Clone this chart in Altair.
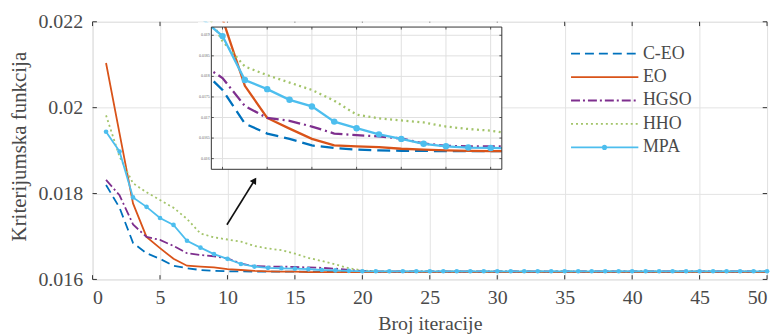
import altair as alt
import pandas as pd

FONT = "Liberation Serif"
TEXT_COLOR = "#4a4a4a"

# ---------------- data ----------------
iterations = list(range(1, 51))
series_names = ["C-EO", "EO", "HGSO", "HHO", "MPA"]

c_eo = [0.01820, 0.01767, 0.01685, 0.01661, 0.01648, 0.01632, 0.01626, 0.01622, 0.01620, 0.01619,
        0.01619, 0.01618, 0.01618, 0.01618, 0.01618, 0.01618, 0.01618, 0.01618, 0.01618, 0.01618,
        0.01618, 0.01618, 0.01618, 0.01618, 0.01618, 0.01618, 0.01618, 0.01618, 0.01618, 0.01618,
        0.01618, 0.01618, 0.01618, 0.01618, 0.01618, 0.01618, 0.01618, 0.01618, 0.01618, 0.01618,
        0.01618, 0.01618, 0.01618, 0.01618, 0.01618, 0.01618, 0.01618, 0.01618, 0.01618, 0.01618]
eo = [0.02104, 0.01940, 0.01777, 0.01699, 0.01673, 0.01648, 0.01632, 0.01630, 0.01628, 0.01624,
      0.01622, 0.01620, 0.01619, 0.01618, 0.01618, 0.01617, 0.01617, 0.01617, 0.01617, 0.01617,
      0.01617, 0.01617, 0.01617, 0.01617, 0.01617, 0.01617, 0.01617, 0.01617, 0.01617, 0.01617,
      0.01617, 0.01617, 0.01617, 0.01617, 0.01617, 0.01617, 0.01617, 0.01617, 0.01617, 0.01617,
      0.01617, 0.01617, 0.01617, 0.01617, 0.01617, 0.01617, 0.01617, 0.01617, 0.01617, 0.01617]
hgso = [0.01832, 0.01796, 0.01728, 0.01699, 0.01692, 0.01678, 0.01661, 0.01657, 0.01654, 0.01649,
        0.01637, 0.01631, 0.01630, 0.01630, 0.01629, 0.01628, 0.01627, 0.01625, 0.01622, 0.01620,
        0.01619, 0.01619, 0.01619, 0.01619, 0.01619, 0.01619, 0.01619, 0.01619, 0.01619, 0.01619,
        0.01619, 0.01619, 0.01619, 0.01619, 0.01619, 0.01619, 0.01619, 0.01619, 0.01619, 0.01619,
        0.01619, 0.01619, 0.01619, 0.01619, 0.01619, 0.01619, 0.01619, 0.01619, 0.01619, 0.01619]
hho = [0.01982, 0.01886, 0.01824, 0.01803, 0.01785, 0.01767, 0.01741, 0.01707, 0.01698, 0.01693,
       0.01688, 0.01678, 0.01672, 0.01668, 0.01660, 0.01650, 0.01643, 0.01635, 0.01626, 0.01621,
       0.01619, 0.01619, 0.01619, 0.01619, 0.01619, 0.01619, 0.01619, 0.01619, 0.01619, 0.01619,
       0.01619, 0.01619, 0.01619, 0.01619, 0.01619, 0.01619, 0.01619, 0.01619, 0.01619, 0.01619,
       0.01619, 0.01619, 0.01619, 0.01619, 0.01619, 0.01619, 0.01619, 0.01619, 0.01619, 0.01619]
mpa = [0.01944, 0.01898, 0.01791, 0.01769, 0.01743, 0.01727, 0.01690, 0.01674, 0.01659, 0.01648,
       0.01636, 0.01630, 0.01627, 0.01626, 0.01625, 0.01624, 0.01622, 0.01621, 0.01620, 0.01619,
       0.01619, 0.01619, 0.01619, 0.01619, 0.01619, 0.01619, 0.01619, 0.01619, 0.01619, 0.01619,
       0.01619, 0.01619, 0.01619, 0.01619, 0.01619, 0.01619, 0.01619, 0.01619, 0.01619, 0.01619,
       0.01619, 0.01619, 0.01619, 0.01619, 0.01619, 0.01619, 0.01619, 0.01619, 0.01619, 0.01619]
series_values = [c_eo, eo, hgso, hho, mpa]

x_ticks = [0, 5, 10, 15, 20, 25, 30, 35, 40, 45, 50]
y_ticks = [0.016, 0.018, 0.02, 0.022]
inset_x_ticks = [2, 4, 6, 8, 10, 12, 14]
inset_y_ticks = [0.016, 0.0165, 0.017, 0.0175, 0.018, 0.0185, 0.019]

# ---------------- layout / styles ----------------
W, H = 678, 259
X_DOM = [0, 50]
Y_DOM = [0.016, 0.022]
IN_X_DOM = [1.5, 14.5]
IN_Y_DOM = [0.01574, 0.0192]
IN_X_RANGE = [119.4, 411.4]
IN_Y_RANGE = [148.3, 5.3]
IN_FIRST, IN_LAST = 0, 15  # slice of iterations drawn in the inset

STYLE = {
    "C-EO": dict(color="#0072BD", dash=[9, 5], dash_in=[13, 6]),
    "EO": dict(color="#D95319", dash=None, dash_in=None),
    "HGSO": dict(color="#7E2F8E", dash=[9, 3, 2, 3], dash_in=[12, 4, 2, 4]),
    "HHO": dict(color="#A3C46A", dash=[2, 3], dash_in=[2, 3.5]),
    "MPA": dict(color="#4DBEEE", dash=None, dash_in=None),
}

x_main = alt.Scale(domain=X_DOM, nice=False, zero=False)
y_main = alt.Scale(domain=Y_DOM, nice=False, zero=False)
x_in = alt.Scale(domain=IN_X_DOM, range=IN_X_RANGE, nice=False, zero=False)
y_in = alt.Scale(domain=IN_Y_DOM, range=IN_Y_RANGE, nice=False, zero=False)

x_axis = alt.Axis(values=x_ticks, title="Broj iteracije", grid=True, ticks=False, domain=False,
                  labelFont=FONT, labelFontSize=20, labelColor=TEXT_COLOR, labelPadding=8,
                  titleFont=FONT, titleFontSize=20, titleFontWeight="normal", titleColor=TEXT_COLOR,
                  titleY=50, titleBaseline="alphabetic", gridColor="#E3E3E3")
y_axis = alt.Axis(values=y_ticks, format="~g", title="Kriterijumska funkcija", grid=True, ticks=False,
                  domain=False, labelFont=FONT, labelFontSize=20, labelColor=TEXT_COLOR, labelPadding=10,
                  titleFont=FONT, titleFontSize=21, titleFontWeight="normal", titleColor=TEXT_COLOR,
                  titleX=-73, titleY=125, titleAngle=270, titleBaseline="middle", titleAlign="center",
                  gridColor="#E3E3E3")


def mx(field):
    return alt.X(field, scale=x_main, axis=x_axis)


def my(field):
    return alt.Y(field, scale=y_main, axis=y_axis)


def ix(field):
    return alt.X(field, scale=x_in, axis=None)


def iy(field):
    return alt.Y(field, scale=y_in, axis=None)


def series_df(values, its):
    return pd.DataFrame({"iteration": its, "value": values})


# ---------------- main panel ----------------
main_layers = []
for name, vals in zip(series_names, series_values):
    st = STYLE[name]
    kw = dict(color=st["color"], strokeWidth=1.8, clip=True)
    if st["dash"]:
        kw["strokeDash"] = st["dash"]
    main_layers.append(alt.Chart(series_df(vals, iterations)).mark_line(**kw).encode(
        x=mx("iteration:Q"), y=my("value:Q")))
main_layers.append(alt.Chart(series_df(mpa, iterations)).mark_point(
    filled=True, size=22, opacity=1, color=STYLE["MPA"]["color"]).encode(
    x=mx("iteration:Q"), y=my("value:Q")))

# inward ticks (MATLAB style)
tick_rows = []
for t in x_ticks:
    tick_rows.append(dict(x=t, x2=t, y=Y_DOM[0], y2=Y_DOM[0] + 0.0001))
    tick_rows.append(dict(x=t, x2=t, y=Y_DOM[1], y2=Y_DOM[1] - 0.0001))
for t in y_ticks:
    tick_rows.append(dict(x=X_DOM[0], x2=X_DOM[0] + 0.32, y=t, y2=t))
    tick_rows.append(dict(x=X_DOM[1], x2=X_DOM[1] - 0.32, y=t, y2=t))
main_layers.append(alt.Chart(pd.DataFrame(tick_rows)).mark_rule(color="#333333", strokeWidth=1).encode(
    x=mx("x:Q"), x2="x2:Q", y=my("y:Q"), y2="y2:Q"))

# arrow pointing to the inset
ARROW_FROM = (9.96, 0.017274)
ARROW_TO = (11.93, 0.018268)
ARROW_HEAD = (12.01, 0.018307)
main_layers.append(alt.Chart(pd.DataFrame([dict(x=ARROW_FROM[0], y=ARROW_FROM[1], x2=ARROW_TO[0], y2=ARROW_TO[1])]))
                   .mark_rule(color="#111111", strokeWidth=1.6).encode(
    x=mx("x:Q"), y=my("y:Q"), x2="x2:Q", y2="y2:Q"))
main_layers.append(alt.Chart(pd.DataFrame([dict(x=ARROW_HEAD[0], y=ARROW_HEAD[1])]))
                   .mark_point(shape="triangle-up", filled=True, size=55, angle=32, color="#111111", opacity=1)
                   .encode(x=mx("x:Q"), y=my("y:Q")))

# legend (drawn manually, top right)
LEG_X0, LEG_X1, LEG_XT, LEG_XM = 35.47, 40.46, 40.80, 37.95
LEG_TOP, LEG_STEP = 0.021259, 0.000546
for i, name in enumerate(series_names):
    st = STYLE[name]
    kw = dict(color=st["color"], strokeWidth=1.8)
    if st["dash"]:
        kw["strokeDash"] = st["dash"]
    row = pd.DataFrame([dict(x=LEG_X0, x2=LEG_X1, y=LEG_TOP - i * LEG_STEP)])
    main_layers.append(alt.Chart(row).mark_rule(**kw).encode(x=mx("x:Q"), x2="x2:Q", y=my("y:Q")))
main_layers.append(alt.Chart(pd.DataFrame([dict(x=LEG_XM, y=LEG_TOP - 4 * LEG_STEP)])).mark_point(
    filled=True, size=26, opacity=1, color=STYLE["MPA"]["color"]).encode(x=mx("x:Q"), y=my("y:Q")))
leg_text = pd.DataFrame({"x": [LEG_XT] * len(series_names),
                         "y": [LEG_TOP - i * LEG_STEP for i in range(len(series_names))],
                         "label": series_names})
main_layers.append(alt.Chart(leg_text).mark_text(
    align="left", baseline="middle", font=FONT, fontSize=18, color=TEXT_COLOR).encode(
    x=mx("x:Q"), y=my("y:Q"), text="label:N"))

main = alt.layer(*main_layers)

# ---------------- inset panel ----------------
box = pd.DataFrame([dict(x=IN_X_DOM[0], x2=IN_X_DOM[1], y=IN_Y_DOM[0], y2=IN_Y_DOM[1])])
inset_layers = [alt.Chart(box).mark_rect(fill="white", strokeWidth=0).encode(
    x=ix("x:Q"), x2="x2:Q", y=iy("y:Q"), y2="y2:Q")]

grid_rows = [dict(x=t, x2=t, y=IN_Y_DOM[0], y2=IN_Y_DOM[1]) for t in inset_x_ticks] + \
            [dict(x=IN_X_DOM[0], x2=IN_X_DOM[1], y=t, y2=t) for t in inset_y_ticks]
inset_layers.append(alt.Chart(pd.DataFrame(grid_rows)).mark_rule(color="#E0E0E0", strokeWidth=1).encode(
    x=ix("x:Q"), x2="x2:Q", y=iy("y:Q"), y2="y2:Q"))

in_its = iterations[IN_FIRST:IN_LAST]
for name, vals in zip(series_names, series_values):
    st = STYLE[name]
    kw = dict(color=st["color"], strokeWidth=2.3, clip=True)
    if st["dash_in"]:
        kw["strokeDash"] = st["dash_in"]
    inset_layers.append(alt.Chart(series_df(vals[IN_FIRST:IN_LAST], in_its)).mark_line(**kw).encode(
        x=ix("iteration:Q"), y=iy("value:Q")))
inset_layers.append(alt.Chart(series_df(mpa[1:14], iterations[1:14])).mark_point(
    filled=True, size=42, opacity=1, color=STYLE["MPA"]["color"], clip=True).encode(
    x=ix("iteration:Q"), y=iy("value:Q")))

# white masks that trim the inset curves at its left, top and right edges
masks = pd.DataFrame([
    dict(x=0.9, x2=IN_X_DOM[0], y=0.0177, y2=0.01931),
    dict(x=0.9, x2=IN_X_DOM[1], y=IN_Y_DOM[1], y2=0.01931),
    dict(x=IN_X_DOM[1], x2=15.15, y=0.01565, y2=0.0168),
])
inset_layers.append(alt.Chart(masks).mark_rect(fill="white", strokeWidth=0, clip=True).encode(
    x=ix("x:Q"), x2="x2:Q", y=iy("y:Q"), y2="y2:Q"))

inset_layers.append(alt.Chart(box).mark_rect(fill=None, stroke="#333333", strokeWidth=1).encode(
    x=ix("x:Q"), x2="x2:Q", y=iy("y:Q"), y2="y2:Q"))

itick_rows = []
for t in inset_x_ticks:
    itick_rows.append(dict(x=t, x2=t, y=IN_Y_DOM[0], y2=IN_Y_DOM[0] + 0.00006))
    itick_rows.append(dict(x=t, x2=t, y=IN_Y_DOM[1], y2=IN_Y_DOM[1] - 0.00006))
for t in inset_y_ticks:
    itick_rows.append(dict(x=IN_X_DOM[0], x2=IN_X_DOM[0] + 0.11, y=t, y2=t))
    itick_rows.append(dict(x=IN_X_DOM[1], x2=IN_X_DOM[1] - 0.11, y=t, y2=t))
inset_layers.append(alt.Chart(pd.DataFrame(itick_rows)).mark_rule(color="#333333", strokeWidth=0.8).encode(
    x=ix("x:Q"), x2="x2:Q", y=iy("y:Q"), y2="y2:Q"))

ilabels = pd.DataFrame({"x": [IN_X_DOM[0]] * len(inset_y_ticks), "y": inset_y_ticks,
                        "label": [f"{t:g}" for t in inset_y_ticks]})
inset_layers.append(alt.Chart(ilabels).mark_text(
    align="right", baseline="middle", dx=-1.5, font=FONT, fontSize=4, color="#666666").encode(
    x=ix("x:Q"), y=iy("y:Q"), text="label:N"))

inset = alt.layer(*inset_layers)

chart = alt.layer(main, inset).resolve_scale(x="independent", y="independent").properties(
    width=W, height=H,
    autosize=alt.AutoSizeParams(type="none"),
    padding={"left": 85, "top": 13, "right": 8, "bottom": 55},
).configure_view(stroke="#333333", strokeWidth=1).configure(background="white")

chart.save("out.html", embed_options={"renderer": "svg", "actions": False})
